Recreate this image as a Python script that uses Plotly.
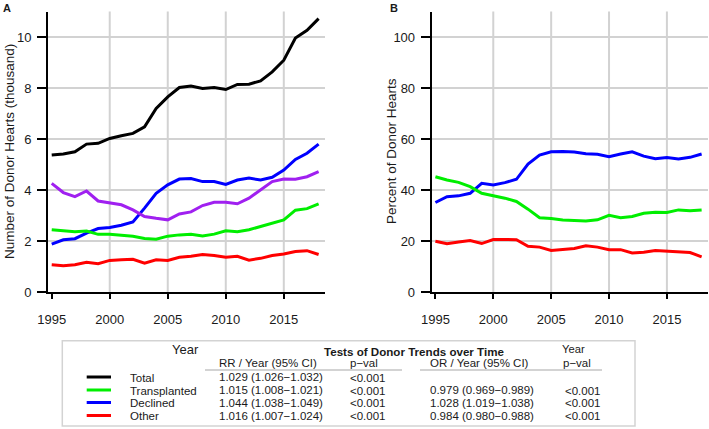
import plotly.graph_objs as go

W, H = 709, 429
FONT = 'Liberation Sans, Arial, sans-serif'
TXT = '#1a1a1a'

years = list(range(1995, 2019))

# Panel A: number of donor hearts (thousand)
total = [5.37, 5.41, 5.50, 5.80, 5.83, 6.02, 6.13, 6.22, 6.48, 7.20, 7.65, 8.02,
         8.08, 7.98, 8.02, 7.94, 8.14, 8.15, 8.28, 8.63, 9.09, 9.96, 10.26, 10.72]
declined = [1.88, 2.05, 2.09, 2.31, 2.49, 2.53, 2.62, 2.75, 3.29, 3.87, 4.20, 4.43,
            4.45, 4.33, 4.33, 4.22, 4.39, 4.47, 4.39, 4.50, 4.78, 5.20, 5.44, 5.80]
unlabeled = [4.26, 3.90, 3.74, 3.96, 3.57, 3.48, 3.42, 3.22, 2.96, 2.89, 2.83, 3.06,
             3.14, 3.39, 3.52, 3.52, 3.46, 3.68, 4.00, 4.33, 4.43, 4.42, 4.52, 4.72]
transplanted = [2.44, 2.39, 2.36, 2.39, 2.26, 2.26, 2.23, 2.19, 2.10, 2.07, 2.19, 2.24,
                2.26, 2.20, 2.27, 2.40, 2.36, 2.44, 2.57, 2.70, 2.83, 3.21, 3.27, 3.46]
other = [1.07, 1.03, 1.07, 1.17, 1.11, 1.24, 1.26, 1.28, 1.13, 1.26, 1.24, 1.36,
         1.40, 1.47, 1.43, 1.36, 1.40, 1.25, 1.32, 1.43, 1.49, 1.59, 1.62, 1.47]

# Panel B: percent of donor hearts
declined_pct = [35.1, 37.4, 37.7, 38.7, 42.6, 42.0, 42.9, 44.2, 50.2, 53.7, 55.0, 55.1,
                54.9, 54.2, 54.0, 53.1, 54.1, 55.0, 53.3, 52.3, 52.7, 52.2, 52.8, 54.1]
transplanted_pct = [45.2, 43.9, 43.0, 41.3, 38.7, 37.7, 36.8, 35.5, 32.5, 29.1, 28.8, 28.2,
                    28.0, 27.8, 28.3, 30.1, 29.1, 29.6, 30.9, 31.3, 31.2, 32.2, 31.9, 32.2]
other_pct = [19.9, 18.9, 19.6, 20.2, 19.0, 20.6, 20.6, 20.5, 17.9, 17.6, 16.3, 16.8,
             17.1, 18.1, 17.6, 16.6, 16.6, 15.3, 15.6, 16.3, 16.0, 15.8, 15.5, 13.8]

x_ticks = [1995, 2000, 2005, 2010, 2015]
x_grid = [2000, 2005, 2010, 2015]
ya_ticks = [0, 2, 4, 6, 8, 10]
yb_ticks = [0, 20, 40, 60, 80, 100]

# trend test table
row_names = ['Total', 'Transplanted', 'Declined', 'Other']
row_colors = ['#000000', '#00ee00', '#0000ff', '#ff0000']
rr_ci = ['1.029 (1.026\u22121.032)', '1.015 (1.008\u22121.021)',
         '1.044 (1.038\u22121.049)', '1.016 (1.007\u22121.024)']
rr_p = ['&lt;0.001', '&lt;0.001', '&lt;0.001', '&lt;0.001']
or_ci = ['', '0.979 (0.969\u22120.989)', '1.028 (1.019\u22121.038)', '0.984 (0.980\u22120.988)']
or_p = ['', '&lt;0.001', '&lt;0.001', '&lt;0.001']


def px(x):
    return x / W


def py(y):
    return 1 - y / H


PURPLE = '#a020f0'
traces = [
    go.Scatter(x=years, y=total, xaxis='x', yaxis='y', mode='lines',
               line=dict(color='#000000', width=3)),
    go.Scatter(x=years, y=declined, xaxis='x', yaxis='y', mode='lines',
               line=dict(color='#0000ff', width=3)),
    go.Scatter(x=years, y=unlabeled, xaxis='x', yaxis='y', mode='lines',
               line=dict(color=PURPLE, width=3)),
    go.Scatter(x=years, y=transplanted, xaxis='x', yaxis='y', mode='lines',
               line=dict(color='#00ee00', width=3)),
    go.Scatter(x=years, y=other, xaxis='x', yaxis='y', mode='lines',
               line=dict(color='#ff0000', width=3)),
    go.Scatter(x=years, y=declined_pct, xaxis='x2', yaxis='y2', mode='lines',
               line=dict(color='#0000ff', width=3)),
    go.Scatter(x=years, y=transplanted_pct, xaxis='x2', yaxis='y2', mode='lines',
               line=dict(color='#00ee00', width=3)),
    go.Scatter(x=years, y=other_pct, xaxis='x2', yaxis='y2', mode='lines',
               line=dict(color='#ff0000', width=3)),
]

XR = [1994.68, 2018.55]
GRID = '#d2d2d2'


def xaxis(domain, anchor):
    return dict(domain=domain, anchor=anchor, range=XR, tickmode='array', tickvals=x_ticks,
                showgrid=False, zeroline=False, showline=True, linecolor='black', linewidth=2,
                ticks='outside', ticklen=5, tickwidth=1.5, tickcolor='black',
                tickfont=dict(size=13, color=TXT), ticklabelstandoff=9)


def yaxis(domain, anchor, rng, vals):
    return dict(domain=domain, anchor=anchor, range=rng, tickmode='array', tickvals=vals,
                showgrid=False, zeroline=False, showline=True, linecolor='black', linewidth=2,
                ticks='outside', ticklen=9, tickwidth=1.5, tickcolor='black',
                tickfont=dict(size=13, color=TXT), ticklabelstandoff=3)


ydom = [py(292), py(11.5)]
layout = go.Layout(
    width=W, height=H, margin=dict(l=0, r=0, t=0, b=0, autoexpand=False),
    paper_bgcolor='white', plot_bgcolor='white', showlegend=False,
    font=dict(family=FONT, color=TXT),
    xaxis=xaxis([px(48), px(325)], 'y'),
    yaxis=yaxis(ydom, 'x', [0, 11], ya_ticks),
    xaxis2=xaxis([px(431.7), px(708)], 'y2'),
    yaxis2=yaxis(ydom, 'x2', [0, 110], yb_ticks),
)

ann = []
shapes = []

# grid lines drawn as shapes below the traces, placed through the axes
for xa, ya, yticks in [('x', 'y', ya_ticks), ('x2', 'y2', yb_ticks)]:
    for v in x_grid:
        shapes.append(dict(type='line', xref=xa, yref=ya + ' domain', x0=v, x1=v,
                           y0=0, y1=1, layer='below', line=dict(color=GRID, width=2)))
    for v in yticks[1:]:
        shapes.append(dict(type='line', xref=xa + ' domain', yref=ya, x0=0, x1=1,
                           y0=v, y1=v, layer='below', line=dict(color=GRID, width=2)))


def label(text, x, y, size, xanchor='left', **kw):
    ann.append(dict(text=text, x=px(x), y=py(y), xref='paper', yref='paper',
                    xanchor=xanchor, yanchor='middle', showarrow=False,
                    font=dict(family=FONT, size=size, color=TXT), **kw))


# panel letters and axis titles
label('<b>A</b>', 7, 8, 11, 'center')
label('<b>B</b>', 394, 8, 11, 'center')
label('Number of Donor Hearts (thousand)', 9, 152, 13.5, 'center', textangle=-90)
label('Percent of Donor Hearts', 392, 151, 13.5, 'center', textangle=-90)

# table
shapes.append(dict(type='rect', xref='paper', yref='paper', x0=px(62.3), x1=px(635),
                   y0=py(426), y1=py(340.7), line=dict(color='#d3d3d3', width=1.5)))
for x0, x1 in [(205, 402), (420, 602)]:
    shapes.append(dict(type='line', xref='paper', yref='paper', x0=px(x0), x1=px(x1),
                       y0=py(370), y1=py(370), line=dict(color='#d3d3d3', width=2)))

label('Year', 185.4, 349, 13, 'center')
label('<b>Tests of Donor Trends over Time</b>', 322, 351, 11.6)
label('Year', 573, 349, 11.2, 'center')
label('RR / Year (95% CI)', 216.7, 363, 11.5)
label('p\u2212val', 348, 363, 11.5)
label('OR / Year (95% CI)', 428, 363, 11.5)
label('p\u2212val', 561, 363, 11.5)

row_y = [377, 390, 402.5, 415.5]
for i, name in enumerate(row_names):
    yy = row_y[i]
    shapes.append(dict(type='line', xref='paper', yref='paper', x0=px(86.7), x1=px(111),
                       y0=py(yy), y1=py(yy), line=dict(color=row_colors[i], width=3)))
    label(name, 128.3, yy + 0.8, 11.5)
    label(rr_ci[i], 216.7, yy, 11.5)
    label(rr_p[i], 348, yy + 0.5, 11.5)
    if or_ci[i]:
        label(or_ci[i], 428, yy, 11.5)
        label(or_p[i], 562.5, yy + 0.5, 11.5)

layout.update(annotations=ann, shapes=shapes)

fig = go.Figure(data=traces, layout=layout)
fig.write_html('out.html', config={'displayModeBar': False},
               post_script="document.body.style.margin='0';")
